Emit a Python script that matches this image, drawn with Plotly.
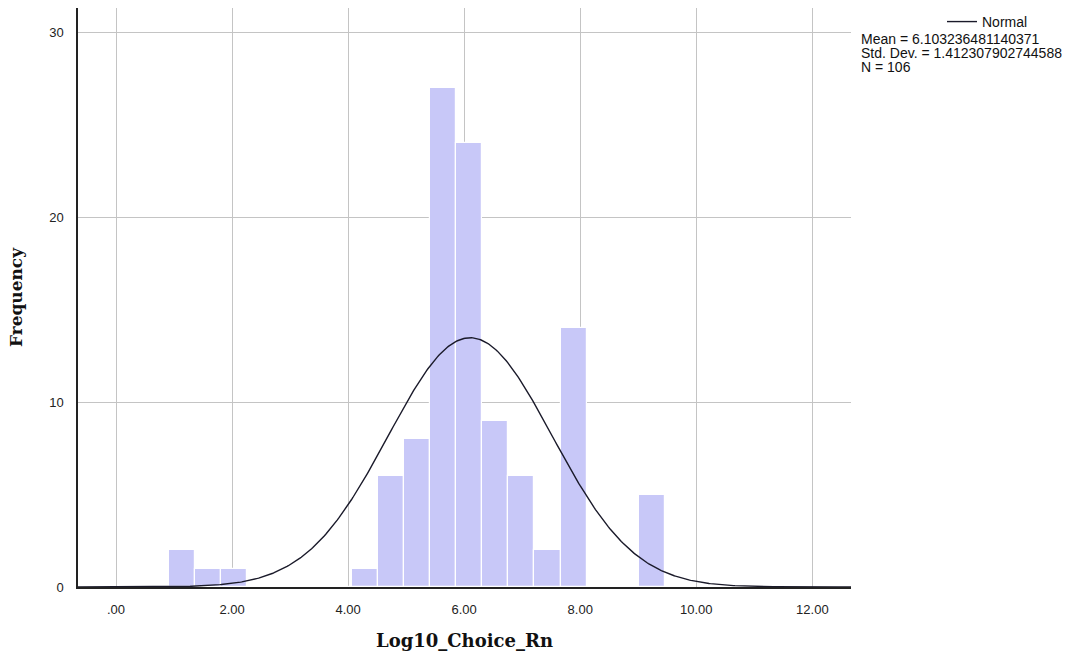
import numpy as np
import plotly.graph_objects as go

# Histogram data
bin_start = 0.91
bin_width = 0.45
counts = [2, 1, 1, 0, 0, 0, 0, 1, 6, 8, 27, 24, 9, 6, 2, 14, 0, 0, 5]

mean = 6.103236481140371
std_dev = 1.412307902744588
n_obs = 106

x_tick_vals = [0, 2, 4, 6, 8, 10, 12]
x_tick_text = [".00", "2.00", "4.00", "6.00", "8.00", "10.00", "12.00"]
y_tick_vals = [0, 10, 20, 30]

x_range = [-0.655, 12.666]
y_range = [0, 31.3]

stat_lines = [f"Mean = {mean}", f"Std. Dev. = {std_dev}", f"N = {n_obs}"]

centers = [bin_start + bin_width * (i + 0.5) for i in range(len(counts))]

xs = np.linspace(x_range[0], x_range[1], 600)
ys = n_obs * bin_width * np.exp(-0.5 * ((xs - mean) / std_dev) ** 2) / (std_dev * np.sqrt(2 * np.pi))

fig = go.Figure()
fig.add_trace(go.Bar(
    x=centers, y=counts, width=bin_width,
    marker=dict(color="#c8c8f8", line=dict(color="white", width=1.2)),
    showlegend=False, hoverinfo="x+y",
))
fig.add_trace(go.Scatter(
    x=xs, y=ys, mode="lines", name="Normal",
    line=dict(color="#1a1a2a", width=1.4),
))

for i, line in enumerate(stat_lines):
    fig.add_annotation(
        xref="paper", yref="paper", x=1.0, y=1.0,
        xshift=9, yshift=-30.5 - 14 * i, xanchor="left", yanchor="middle", align="left",
        showarrow=False, text=line, borderpad=0,
        font=dict(family="Liberation Sans, Arial", size=14, color="#111"),
    )

fig.update_layout(
    width=1076, height=660,
    margin=dict(l=78, r=225, t=8, b=73, autoexpand=False),
    paper_bgcolor="white", plot_bgcolor="white",
    bargap=0,
    font=dict(family="Liberation Sans, Arial", size=13, color="#222"),
    legend=dict(
        x=1.1177, y=1.0035, xanchor="left", yanchor="top",
        bgcolor="rgba(0,0,0,0)", font=dict(size=14, color="#111"),
        itemwidth=30, tracegroupgap=0,
    ),
    showlegend=True,
    xaxis=dict(
        range=x_range, tickvals=x_tick_vals, ticktext=x_tick_text,
        showgrid=True, gridcolor="#c4c4c4", gridwidth=1,
        showline=True, linecolor="#222", linewidth=1.5,
        ticks="", zeroline=False, ticklabelstandoff=10,
        title=dict(text="<b>Log10_Choice_Rn</b>", standoff=18,
                   font=dict(family="DejaVu Serif, Liberation Serif", size=18, color="#111")),
    ),
    yaxis=dict(
        range=y_range, tickvals=y_tick_vals,
        showgrid=True, gridcolor="#c4c4c4", gridwidth=1,
        showline=True, linecolor="#222", linewidth=1.5,
        ticks="", zeroline=False, ticklabelstandoff=10,
        title=dict(text="<b>Frequency</b>", standoff=22,
                   font=dict(family="DejaVu Serif, Liberation Serif", size=17, color="#111")),
    ),
)

fig.write_html("out.html")
